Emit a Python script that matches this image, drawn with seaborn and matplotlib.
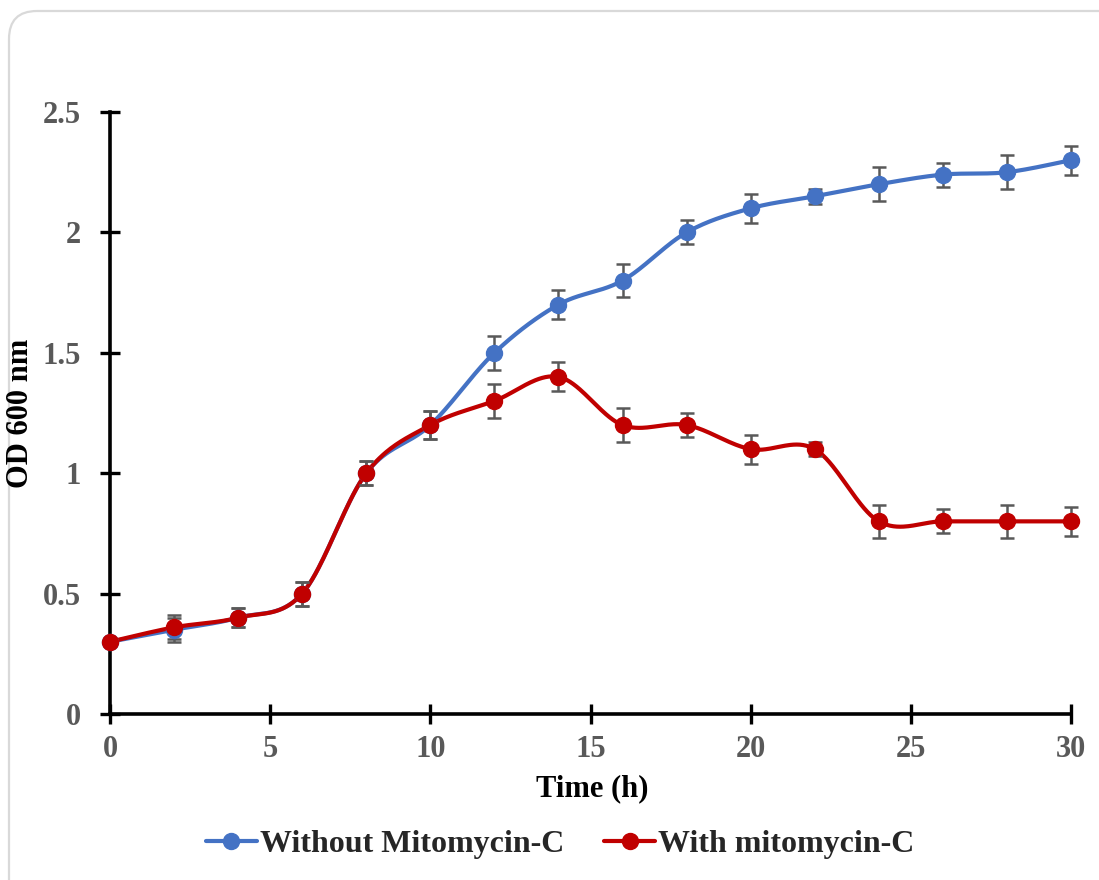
import numpy as np
import pandas as pd
import seaborn as sns
import matplotlib.pyplot as plt
from matplotlib.patches import FancyBboxPatch
from matplotlib.lines import Line2D
from matplotlib.transforms import IdentityTransform

# growth curve data
time_h = [0, 2, 4, 6, 8, 10, 12, 14, 16, 18, 20, 22, 24, 26, 28, 30]
od_without = [0.30, 0.35, 0.40, 0.50, 1.00, 1.20, 1.50, 1.70, 1.80, 2.00, 2.10, 2.15, 2.20, 2.24, 2.25, 2.30]
err_without = [0.01, 0.05, 0.04, 0.05, 0.05, 0.06, 0.07, 0.06, 0.07, 0.05, 0.06, 0.03, 0.07, 0.05, 0.07, 0.06]
od_with = [0.30, 0.36, 0.40, 0.50, 1.00, 1.20, 1.30, 1.40, 1.20, 1.20, 1.10, 1.10, 0.80, 0.80, 0.80, 0.80]
err_with = [0.01, 0.05, 0.04, 0.05, 0.05, 0.06, 0.07, 0.06, 0.07, 0.05, 0.06, 0.03, 0.07, 0.05, 0.07, 0.06]

labels = ['Without Mitomycin-C', 'With mitomycin-C']
colors = ['#4472C4', '#C00000']
err_color = '#595959'


def smooth_curve(x, y, n=40):
    # Excel-like smoothed line: cubic Bezier segments with Catmull-Rom control points
    x = np.asarray(x, float)
    y = np.asarray(y, float)
    px = np.concatenate([[x[0]], x, [x[-1]]])
    py = np.concatenate([[y[0]], y, [y[-1]]])
    xs, ys = [], []
    t = np.linspace(0, 1, n)
    for i in range(1, len(px) - 2):
        p0 = np.array([px[i], py[i]])
        p3 = np.array([px[i + 1], py[i + 1]])
        c1 = p0 + (np.array([px[i + 1], py[i + 1]]) - np.array([px[i - 1], py[i - 1]])) / 6
        c2 = p3 - (np.array([px[i + 2], py[i + 2]]) - np.array([px[i], py[i]])) / 6
        b = ((1 - t) ** 3)[:, None] * p0 + (3 * (1 - t) ** 2 * t)[:, None] * c1 \
            + (3 * (1 - t) * t ** 2)[:, None] * c2 + (t ** 3)[:, None] * p3
        xs.extend(b[:, 0])
        ys.extend(b[:, 1])
    return np.array(xs), np.array(ys)


sns.set_style('white')
plt.rcParams['font.family'] = ['Liberation Serif', 'DejaVu Serif']
plt.rcParams['font.weight'] = 'bold'

fig = plt.figure(figsize=(10.99, 8.8), dpi=100)

# rounded chart border like the Excel chart area
fig.patches.append(FancyBboxPatch((9, -40), 1160, 909, boxstyle='round,pad=0,rounding_size=28',
                                  transform=IdentityTransform(), facecolor='white',
                                  edgecolor='#d9d9d9', linewidth=1.6, zorder=-10))

ax = fig.add_axes([110 / 1099, 1 - 714 / 880, 961 / 1099, 602 / 880])
ax.set_facecolor('none')

series = [(od_without, err_without), (od_with, err_with)]
for (vals, errs), col in zip(series, colors):
    sx, sy = smooth_curve(time_h, vals)
    df = pd.DataFrame({'Time': sx, 'OD': sy})
    sns.lineplot(data=df, x='Time', y='OD', ax=ax, color=col, linewidth=3, sort=False,
                 estimator=None, clip_on=False, zorder=3)
    ax.errorbar(time_h, vals, yerr=errs, fmt='none', ecolor=err_color, elinewidth=1.8,
                capsize=5, capthick=1.8, clip_on=False, zorder=4)
    ax.plot(time_h, vals, 'o', color=col, markersize=11.5, clip_on=False, zorder=5)

ax.set_xlim(0, 30)
ax.set_ylim(0, 2.5)
ax.set_xticks([0, 5, 10, 15, 20, 25, 30])
ax.set_yticks([0, 0.5, 1, 1.5, 2, 2.5])
ax.set_yticklabels(['0', '0.5', '1', '1.5', '2', '2.5'])

for s in ['top', 'right']:
    ax.spines[s].set_visible(False)
for s in ['left', 'bottom']:
    ax.spines[s].set_linewidth(2.6)
    ax.spines[s].set_color('black')

ax.tick_params(axis='both', direction='inout', length=14, width=2.4, color='black',
               labelsize=22, labelcolor='#595959', bottom=True, left=True)
ax.tick_params(axis='x', pad=8)
ax.tick_params(axis='y', pad=14)
ax.grid(False)

ax.set_xlabel('Time (h)', fontsize=22, fontweight='bold', color='black')
ax.set_ylabel('OD 600 nm', fontsize=22, fontweight='bold', color='black')
ax.xaxis.set_label_coords(0.5016, -0.100)
ax.yaxis.set_label_coords(-0.078, 0.5)

handles = [Line2D([0], [0], color=c, linewidth=3, marker='o', markersize=11.5) for c in colors]
fig.legend(handles, labels, loc='center', bbox_to_anchor=(0.5096, 0.04), ncol=2,
           frameon=False, handlelength=1.6, handletextpad=0.1,
           columnspacing=1.25, prop={'weight': 'bold', 'size': 23})

fig.savefig('out.png', dpi=100)
